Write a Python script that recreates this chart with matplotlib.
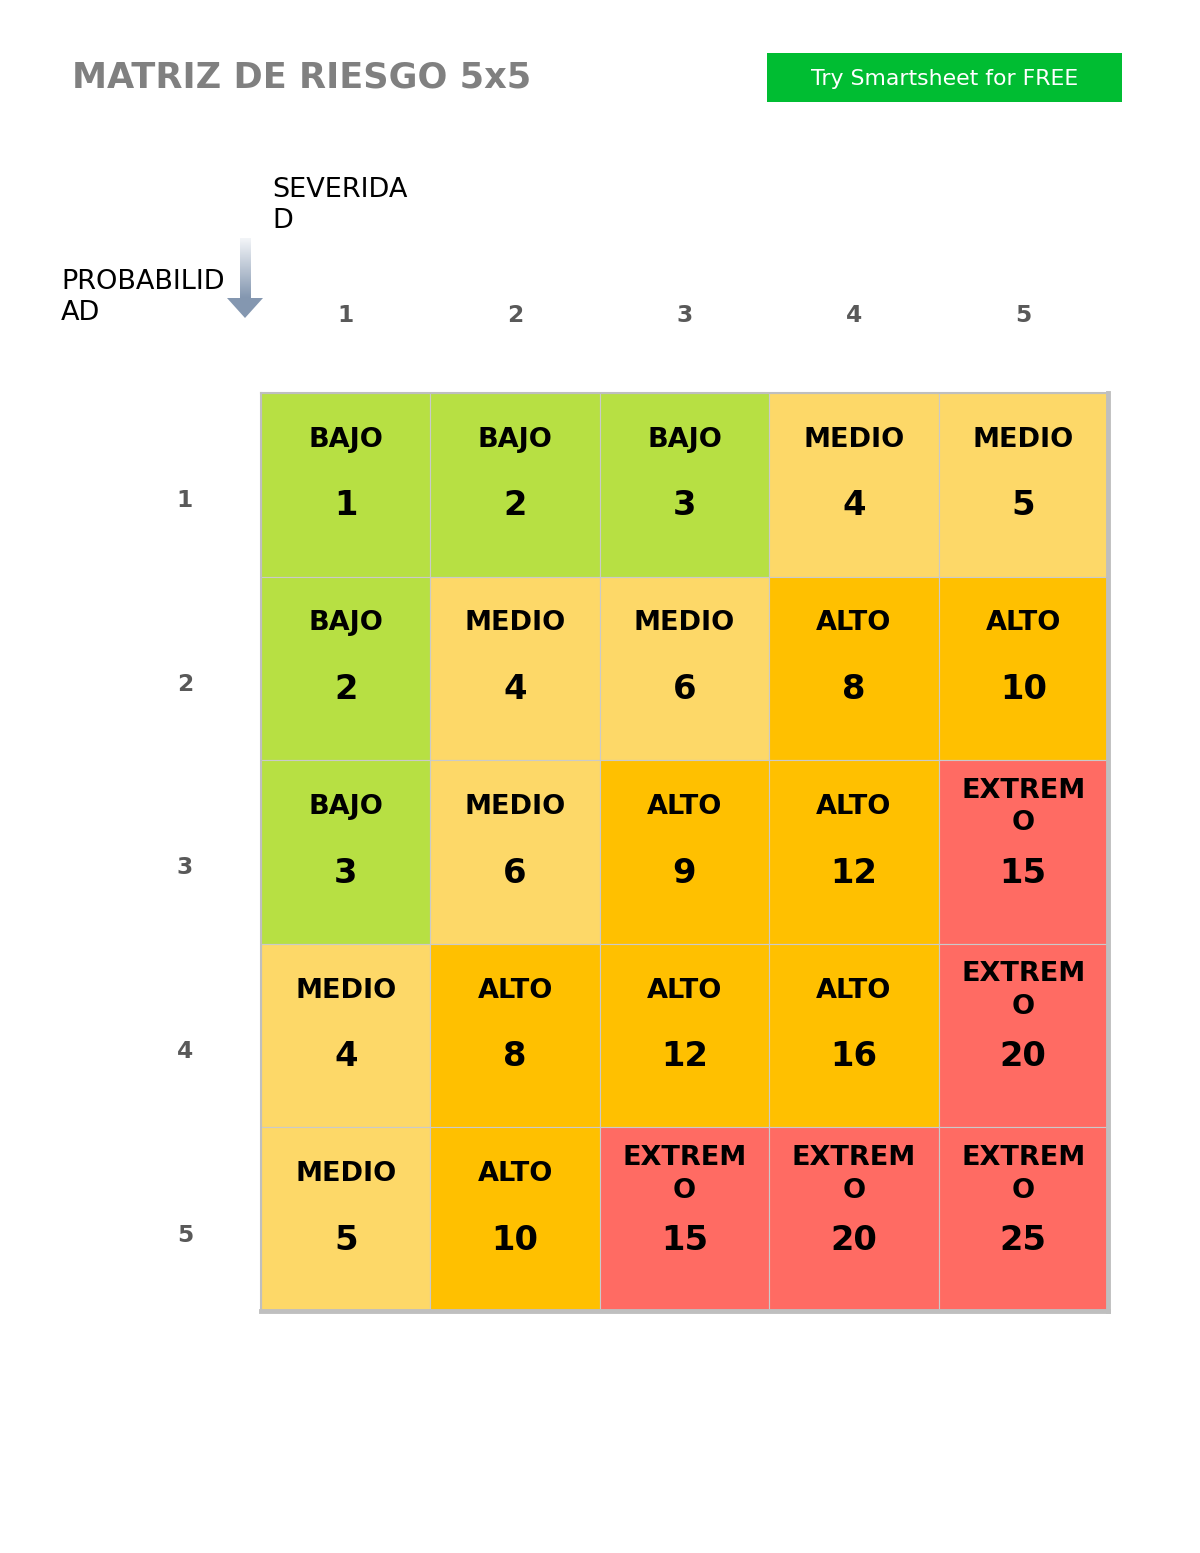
import numpy as np
import matplotlib
matplotlib.use("Agg")
import matplotlib.pyplot as plt
from matplotlib.patches import Rectangle, Polygon
from matplotlib.colors import LinearSegmentedColormap

plt.rcParams["font.family"] = ["DejaVu Sans"]

# data
severidad = [1, 2, 3, 4, 5]
probabilidad = [1, 2, 3, 4, 5]
niveles = [
    ["BAJO", "BAJO", "BAJO", "MEDIO", "MEDIO"],
    ["BAJO", "MEDIO", "MEDIO", "ALTO", "ALTO"],
    ["BAJO", "MEDIO", "ALTO", "ALTO", "EXTREMO"],
    ["MEDIO", "ALTO", "ALTO", "ALTO", "EXTREMO"],
    ["MEDIO", "ALTO", "EXTREMO", "EXTREMO", "EXTREMO"],
]
puntajes = [
    [1, 2, 3, 4, 5],
    [2, 4, 6, 8, 10],
    [3, 6, 9, 12, 15],
    [4, 8, 12, 16, 20],
    [5, 10, 15, 20, 25],
]
colores = {"BAJO": "#B7E043", "MEDIO": "#FDD868", "ALTO": "#FFC000", "EXTREMO": "#FF6B63"}
etiquetas = {"BAJO": "BAJO", "MEDIO": "MEDIO", "ALTO": "ALTO", "EXTREMO": "EXTREM\nO"}

W, H = 1200, 1553
fig = plt.figure(figsize=(W / 100, H / 100), dpi=100)

# full-page overlay in pixel coordinates
bg = fig.add_axes([0, 0, 1, 1])
bg.set_xlim(0, W); bg.set_ylim(H, 0); bg.axis("off")

bg.text(72, 78, "MATRIZ DE RIESGO 5x5", fontsize=25.3, fontweight="bold",
        color="#808080", va="center", ha="left")
bg.add_patch(Rectangle((767, 53), 355, 49, color="#00BD32", lw=0))
bg.text(944.5, 79, "Try Smartsheet for FREE", fontsize=15.8, color="white",
        ha="center", va="center")

bg.text(272, 177, "SEVERIDA\nD", fontsize=19.5, va="top", ha="left", linespacing=1.27)
bg.text(61, 269, "PROBABILID\nAD", fontsize=19.5, va="top", ha="left", linespacing=1.27)

# arrow: gradient shaft + head
cmap = LinearSegmentedColormap.from_list("arr", ["#F3F5F8", "#8497B0"])
grad = np.linspace(0, 1, 100).reshape(-1, 1)
bg.imshow(grad, cmap=cmap, extent=[240, 251, 298, 238], origin="upper",
          aspect="auto", interpolation="bilinear")
bg.add_patch(Polygon([(227, 298), (263, 298), (245, 318)], closed=True,
                     color="#8497B0", lw=0))
bg.set_xlim(0, W); bg.set_ylim(H, 0)

# matrix
x0, x1, y0, y1 = 261, 1108, 393, 1311
ax = fig.add_axes([x0 / W, 1 - y1 / H, (x1 - x0) / W, (y1 - y0) / H])
n = len(severidad)
ax.set_xlim(0, n); ax.set_ylim(n, 0)
ax.set_xticks([]); ax.set_yticks([])
for i in range(n):
    for j in range(n):
        lvl = niveles[i][j]
        ax.add_patch(Rectangle((j, i), 1, 1, facecolor=colores[lvl],
                               edgecolor="#CACACA", lw=0.8))
        ax.text(j + 0.5, i + 0.255, etiquetas[lvl], ha="center", va="center",
                fontsize=19.5, fontweight="bold", linespacing=1.34)
        ax.text(j + 0.5, i + 0.615, str(puntajes[i][j]), ha="center", va="center",
                fontsize=24.3, fontweight="bold")
for sp in ["left", "top"]:
    ax.spines[sp].set_color("#BFBFBF"); ax.spines[sp].set_linewidth(1.5)
for sp in ["right", "bottom"]:
    ax.spines[sp].set_color("#BFBFBF"); ax.spines[sp].set_linewidth(3.5)

for j, s in enumerate(severidad):
    ax.text(j + 0.5, -0.423, str(s), ha="center", va="center", fontsize=16.8,
            fontweight="bold", color="#595959", clip_on=False)
for i, p in enumerate(probabilidad):
    ax.text(-0.449, i + 0.587, str(p), ha="center", va="center", fontsize=16.8,
            fontweight="bold", color="#595959", clip_on=False)

fig.savefig("out.png", dpi=100)
